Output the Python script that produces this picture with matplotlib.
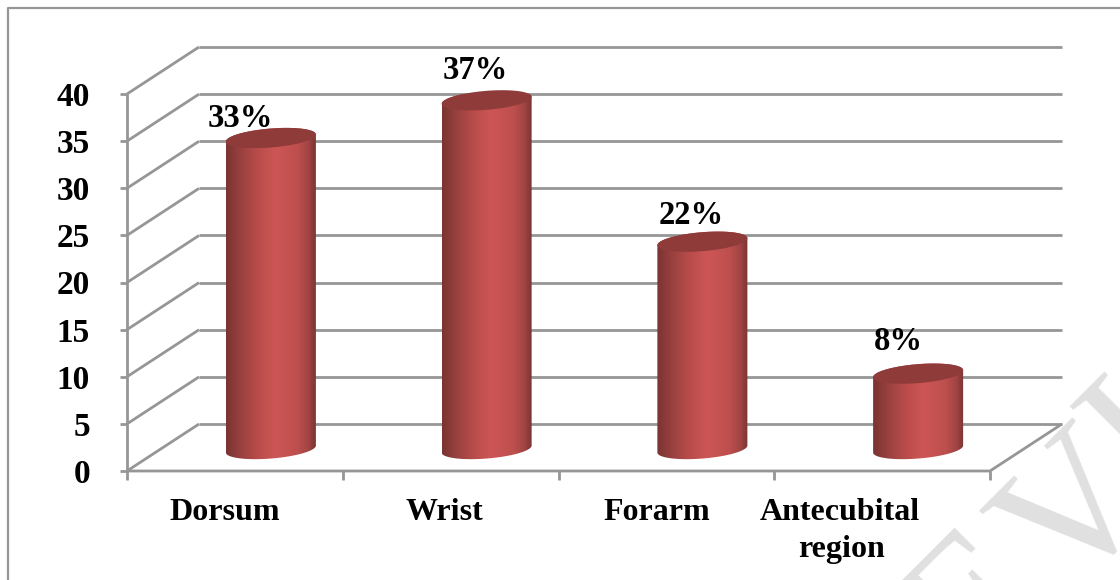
import numpy as np
import matplotlib
matplotlib.use("Agg")
import matplotlib.pyplot as plt
from matplotlib.colors import LinearSegmentedColormap
from matplotlib.patches import Polygon

categories = ["Dorsum", "Wrist", "Forarm", "Antecubital", "region"]
values = [33, 37, 22, 8]
value_labels = ["33%", "37%", "22%", "8%"]
y_ticks = [0, 5, 10, 15, 20, 25, 30, 35, 40]

# layout (pixels)
label_x = [240, 475, 691, 898]
label_y = [115, 67, 212, 338]
cat_x = [225, 444, 657, 840, 841]
cat_y = [509, 509, 509, 509, 546]
wm = [("E", 1012, 640), ("V", 1113, 550), ("I", 1172, 472)]

W, H = 1120, 580
plt.rcParams['font.family'] = ['Liberation Serif', 'DejaVu Serif']
fig = plt.figure(figsize=(W/100, H/100), dpi=100)
L, R, T, B = 127, 990, 94, 471
ax = fig.add_axes([L/W, 1-B/H, (R-L)/W, (B-T)/H])
ax.set_xlim(0, 4); ax.set_ylim(0, 40); ax.axis('off')
px = 4/(R-L); py = 40/(B-T)
X = lambda p: (p-L)*px
Y = lambda p: (B-p)*py
dx, dy = 72*px, 47*py
G = '#969696'
lw = 2.0

fig.add_artist(plt.Line2D([8/W, 8/W, 1120/W], [0, 1-8/H, 1-8/H], color=G, lw=1.6))

for s, xx, yy in wm:
    fig.text(xx/W, 1-yy/H, s, color='#e0e0e0', fontsize=136, rotation=45, ha='center', va='baseline',
             rotation_mode='anchor', zorder=-5, clip_on=True)

c = dict(color=G, lw=lw, clip_on=False, solid_capstyle='butt', zorder=1)
for v in y_ticks:
    ax.plot([dx, 4+dx], [v+dy, v+dy], **c)
    ax.plot([0, dx], [v, v+dy], **c)
    ax.plot([-7*px, 0], [v, v], **c)
ax.plot([0, 4, 4+dx], [0, 0, dy], **c)
ax.plot([0, 0], [-9*py, 40], **c)
for i in range(1, 5):
    ax.plot([i, i], [-9*py, 0], **c)

for v in y_ticks:
    ax.text(X(90), v, str(v), ha='right', va='center_baseline', fontsize=24, fontweight='bold', color='k', clip_on=False)
for s, xx, yy in zip(categories, cat_x, cat_y):
    ax.text(X(xx), Y(yy), s, ha='center', va='center_baseline', fontsize=23, fontweight='bold', color='k', clip_on=False)

cmap = LinearSegmentedColormap.from_list('cyl', [(0, '#7a3432'), (0.15, '#96403e'), (0.35, '#b84c4a'),
                                                 (0.55, '#cd5655'), (0.8, '#bd4f4d'), (0.92, '#a04543'), (1, '#7a3432')])
grad = np.linspace(0, 1, 256).reshape(1, -1)
t = np.linspace(0, 2*np.pi, 181)
hw = 45*px; a = 3.5*py; b = 9.5*py
base = 2.33
offs = 36*px
for i, v in enumerate(values):
    cx = i + 0.5 + offs
    xe = cx + hw*np.cos(t)
    top = base + v + a*np.cos(t) + b*np.sin(t)
    tl = np.linspace(np.pi, 0, 60)
    tl2 = np.linspace(0, -np.pi, 60)
    xs = np.r_[cx + hw*np.cos(tl), cx + hw*np.cos(tl2)]
    ys = np.r_[base+v + a*np.cos(tl) + b*np.sin(tl), base + a*np.cos(tl2) + b*np.sin(tl2)]
    poly = Polygon(np.c_[xs, ys], closed=True, transform=ax.transData, facecolor='none', edgecolor='none')
    ax.add_patch(poly)
    im = ax.imshow(grad, extent=[cx-hw, cx+hw, 0, 45], cmap=cmap, aspect='auto', zorder=3, vmin=0, vmax=1)
    im.set_clip_path(poly)
    ax.fill(xe, top, color='#8f3b39', zorder=4, clip_on=False, lw=0)
    ax.text(X(label_x[i]), Y(label_y[i]), value_labels[i], ha='center', va='center_baseline',
            fontsize=23.5, fontweight='bold', color='k', clip_on=False, zorder=5)
ax.set_xlim(0, 4); ax.set_ylim(0, 40)
fig.savefig('out.png', dpi=100)
